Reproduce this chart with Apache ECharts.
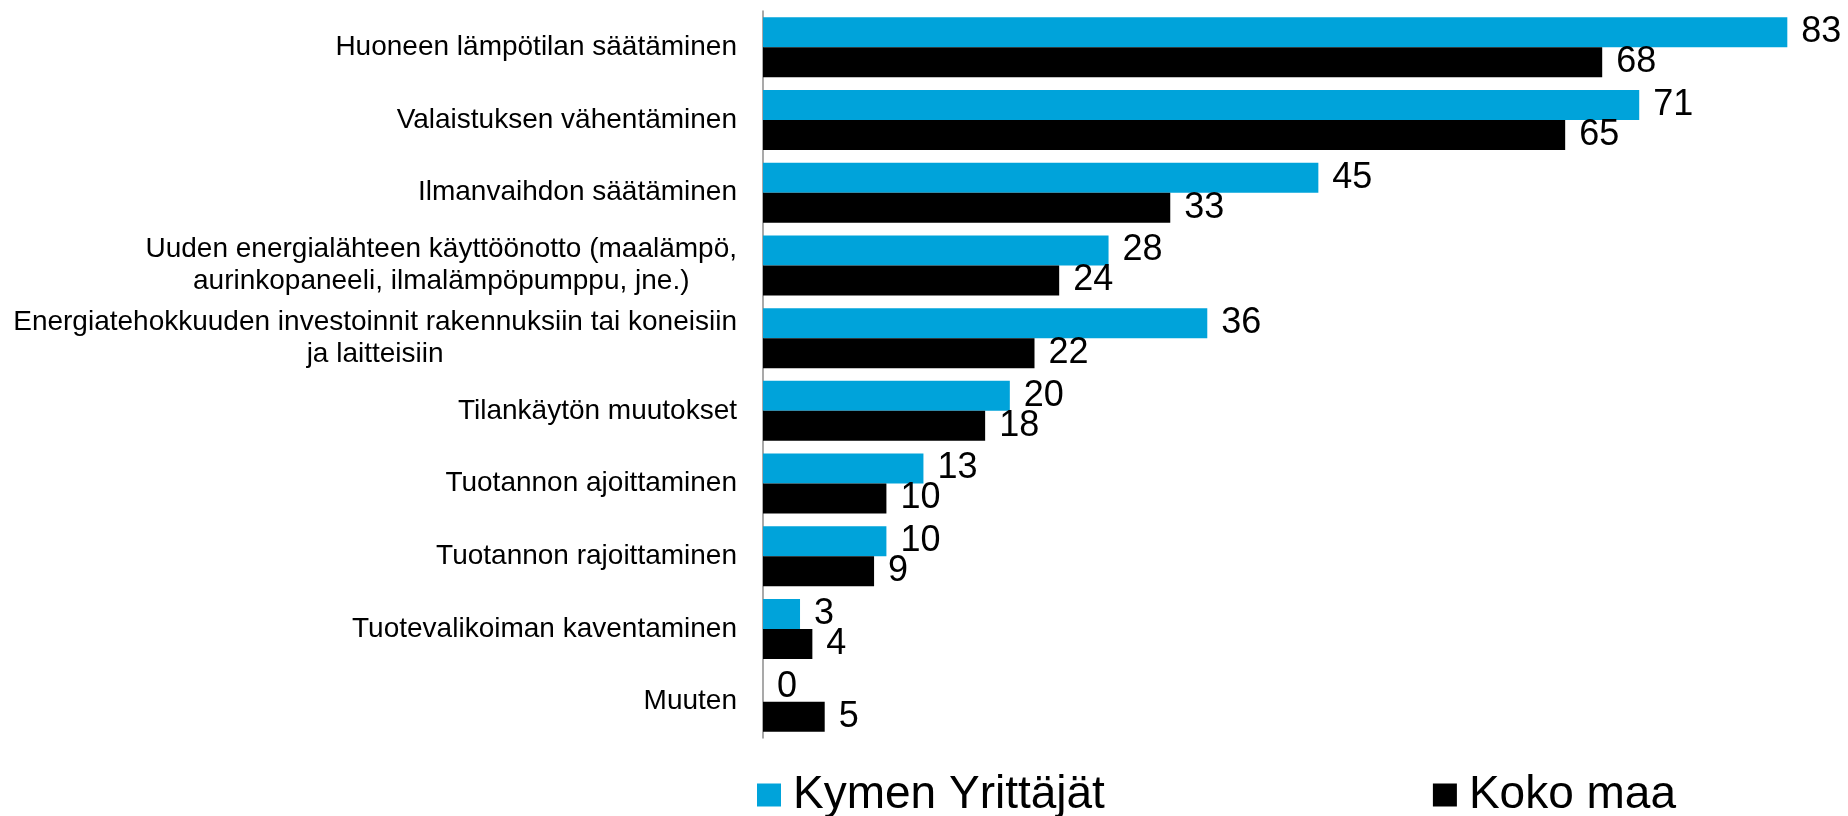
<!DOCTYPE html>
<html>
<head>
<meta charset="utf-8">
<title>Energiansäästötoimet</title>
<script src="https://cdn.jsdelivr.net/npm/echarts@6/dist/echarts.min.js"></script>
<style>
  html, body { margin: 0; padding: 0; background: #fff; }
  #chart { width: 1848px; height: 816px; }
</style>
</head>
<body>
<div id="chart"></div>
<script>
// kategoriat, ylhäältä alas
const categories = [
  'Huoneen lämpötilan säätäminen',
  'Valaistuksen vähentäminen',
  'Ilmanvaihdon säätäminen',
  'Uuden energialähteen käyttöönotto (maalämpö,\naurinkopaneeli, ilmalämpöpumppu, jne.)',
  'Energiatehokkuuden investoinnit rakennuksiin tai koneisiin\nja laitteisiin',
  'Tilankäytön muutokset',
  'Tuotannon ajoittaminen',
  'Tuotannon rajoittaminen',
  'Tuotevalikoiman kaventaminen',
  'Muuten'
];
const seriesNames = ['Kymen Yrittäjät', 'Koko maa'];
const kymenValues = [83, 71, 45, 28, 36, 20, 13, 10, 3, 0];
const kokoMaaValues = [68, 65, 33, 24, 22, 18, 10, 9, 4, 5];

const font = '"Liberation Sans", Arial, sans-serif';

const chart = echarts.init(document.getElementById('chart'));

const option = {
  animation: false,
  grid: { left: 763, top: 11, width: 1049, height: 727 },
  legend: {
    data: seriesNames,
    left: 752,
    top: 767,
    icon: 'rect',
    itemWidth: 24,
    itemHeight: 23,
    itemGap: 328,
    textStyle: {
      fontFamily: font,
      fontSize: 46,
      color: '#000',
      padding: [0, 0, 0, 7]
    }
  },
  xAxis: {
    type: 'value',
    min: 0,
    max: 85,
    show: false
  },
  yAxis: {
    type: 'category',
    data: categories,
    inverse: true,
    axisLine: { show: true, lineStyle: { color: '#8c8c8c', width: 1.5 } },
    axisTick: { show: false },
    axisLabel: {
      margin: 26,
      // monirivisissä nimissä rivit keskitetään toisiinsa nähden
      formatter: function (v) {
        return v.split('\n').map(function (l) { return '{c|' + l + '}'; }).join('\n');
      },
      rich: {
        c: {
          align: 'center',
          fontFamily: font,
          fontSize: 28,
          lineHeight: 32,
          color: '#000'
        }
      }
    }
  },
  series: [
    {
      name: seriesNames[0],
      type: 'bar',
      data: kymenValues,
      barWidth: 30,
      barGap: '0%',
      itemStyle: { color: '#00a3da' },
      label: {
        show: true,
        position: 'right',
        distance: 14,
        fontFamily: font,
        fontSize: 36,
        color: '#000'
      }
    },
    {
      name: seriesNames[1],
      type: 'bar',
      data: kokoMaaValues,
      barWidth: 30,
      barGap: '0%',
      itemStyle: { color: '#000' },
      label: {
        show: true,
        position: 'right',
        distance: 14,
        fontFamily: font,
        fontSize: 36,
        color: '#000'
      }
    }
  ]
};

chart.setOption(option);
</script>
</body>
</html>
